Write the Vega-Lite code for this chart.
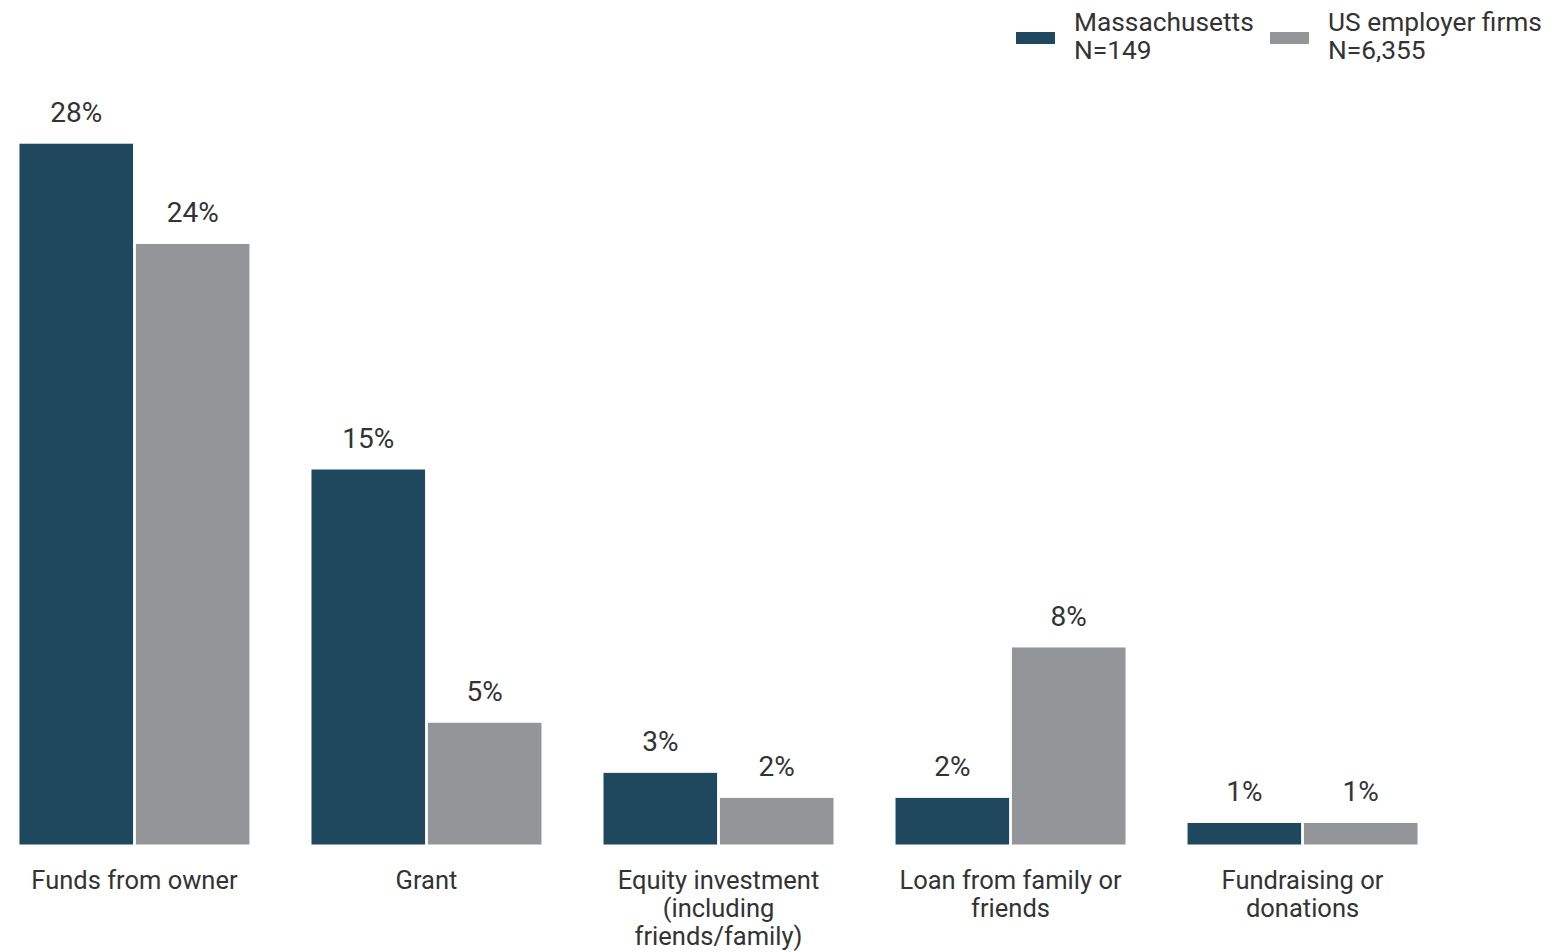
{
  "$schema": "https://vega.github.io/schema/vega-lite/v6.json",
  "width": 1437,
  "height": 752,
  "autosize": {"type": "none"},
  "padding": {"left": 0, "top": 93, "right": 116, "bottom": 107},
  "config": {
    "view": {"stroke": null},
    "font": "Roboto",
    "legend": {"padding": 0}
  },
  "data": {
    "values": [
      {"category": "Funds from owner", "series": "Massachusetts", "value": 0.28},
      {"category": "Funds from owner", "series": "US employer firms", "value": 0.24},
      {"category": "Grant", "series": "Massachusetts", "value": 0.15},
      {"category": "Grant", "series": "US employer firms", "value": 0.049},
      {"category": "Equity investment (including friends/family)", "series": "Massachusetts", "value": 0.029},
      {"category": "Equity investment (including friends/family)", "series": "US employer firms", "value": 0.019},
      {"category": "Loan from family or friends", "series": "Massachusetts", "value": 0.019},
      {"category": "Loan from family or friends", "series": "US employer firms", "value": 0.079},
      {"category": "Fundraising or donations", "series": "Massachusetts", "value": 0.009},
      {"category": "Fundraising or donations", "series": "US employer firms", "value": 0.009}
    ]
  },
  "encoding": {
    "x": {
      "field": "category",
      "type": "nominal",
      "sort": ["Funds from owner", "Grant", "Equity investment (including friends/family)", "Loan from family or friends", "Fundraising or donations"],
      "scale": {"paddingInner": 0.209, "paddingOuter": 0.065},
      "axis": {
        "title": null,
        "domain": false,
        "ticks": false,
        "labelAngle": 0,
        "labelFontSize": 25.5,
        "labelColor": "#333333",
        "labelPadding": 23,
        "labelBaseline": "top",
        "labelLineHeight": 28,
        "labelLimit": 400,
        "labelOverlap": false,
        "labelExpr": "datum.value == 'Equity investment (including friends/family)' ? ['Equity investment', '(including', 'friends/family)'] : datum.value == 'Loan from family or friends' ? ['Loan from family or', 'friends'] : datum.value == 'Fundraising or donations' ? ['Fundraising or', 'donations'] : datum.value"
      }
    },
    "xOffset": {
      "field": "series",
      "type": "nominal",
      "sort": ["Massachusetts", "US employer firms"],
      "scale": {"paddingInner": 0.015}
    },
    "y": {
      "field": "value",
      "type": "quantitative",
      "scale": {"domain": [0, 0.3]},
      "axis": null
    }
  },
  "layer": [
    {
      "mark": {"type": "bar", "stroke": "white", "strokeWidth": 1},
      "encoding": {
        "color": {
          "field": "series",
          "type": "nominal",
          "sort": ["Massachusetts", "US employer firms"],
          "scale": {"domain": ["Massachusetts", "US employer firms"], "range": ["#1f475d", "#939598"]},
          "legend": {
            "orient": "none",
            "legendX": 1016,
            "legendY": -75,
            "direction": "horizontal",
            "title": null,
            "labelExpr": "datum.value == 'Massachusetts' ? ['Massachusetts', 'N=149'] : ['US employer firms', 'N=6,355']",
            "symbolType": "M-1,-0.31H1V0.31H-1Z",
            "symbolSize": 1521,
            "symbolStrokeWidth": 0,
            "symbolOpacity": 1,
            "labelFontSize": 26.3,
            "labelBaseline": "line-bottom",
            "labelColor": "#333333",
            "labelOffset": 19,
            "columnPadding": 16,
            "labelLimit": 400
          }
        }
      }
    },
    {
      "mark": {"type": "text", "baseline": "alphabetic", "dy": -21, "fontSize": 28, "color": "#333333"},
      "encoding": {
        "text": {"field": "value", "type": "quantitative", "format": ".0%"}
      }
    }
  ]
}
